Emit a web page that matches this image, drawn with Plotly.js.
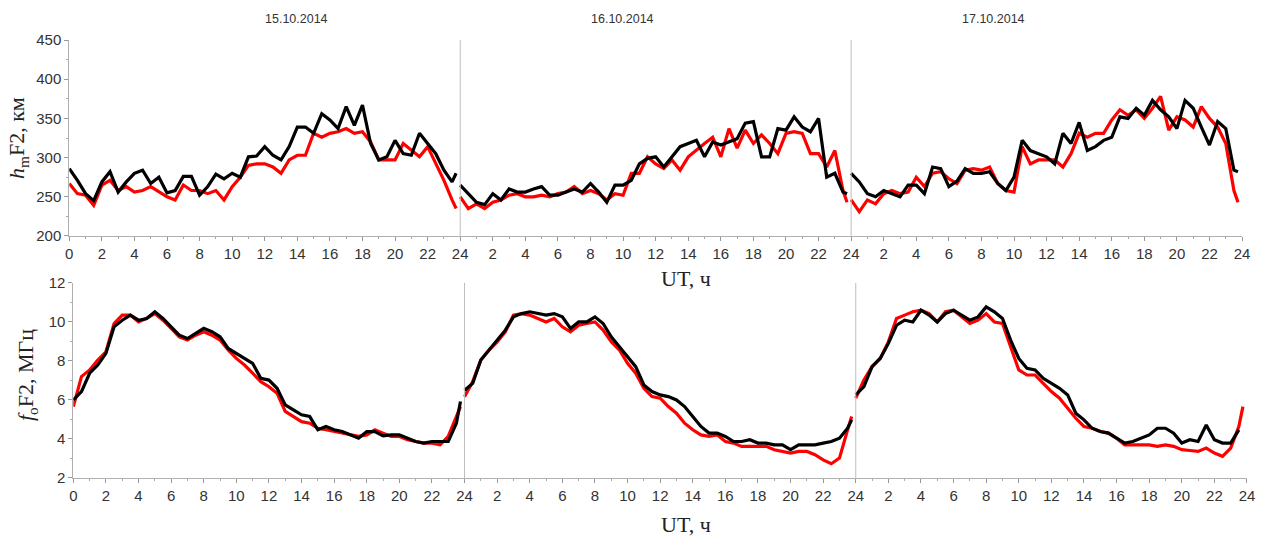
<!DOCTYPE html>
<html><head><meta charset="utf-8">
<script src="https://cdn.plot.ly/plotly-3.0.1.min.js"></script>
<style>html,body{margin:0;padding:0;background:#fff}</style>
</head><body>
<div id="chart" style="width:1262px;height:541px"></div>
<script>
// Hours of day for each sample (UT, h)
const HOURS = [0,0.5,1,1.5,2,2.5,3,3.5,4,4.5,5,5.5,6,6.5,7,7.5,8,8.5,9,9.5,10,10.5,11,11.5,12,12.5,13,13.5,14,14.5,15,15.5,16,16.5,17,17.5,18,18.5,19,19.5,20,20.5,21,21.5,22,22.5,23,23.5,23.75];
const DAYS = ['15.10.2014','16.10.2014','17.10.2014'];
const TICK_VALUES = [0,2,4,6,8,10,12,14,16,18,20,22,24,26,28,30,32,34,36,38,40,42,44,46,48,50,52,54,56,58,60,62,64,66,68,70,72];
const TICK_TEXT = ['0','2','4','6','8','10','12','14','16','18','20','22','24','2','4','6','8','10','12','14','16','18','20','22','24','2','4','6','8','10','12','14','16','18','20','22','24'];

// hmF2, km
const HM_BLACK_D1 = [286,271,254,245,269,282,256,269,280,284, 267,275,255,258,276,276,252,263,279,273, 280,275,301,302,314,303,297,314,339,339, 331,356,348,337,365,341,367,318,297,301, 322,305,303,331,318,305,284,269, 280];
const HM_RED_D1   = [267,254,252,239,265,271,258,263,256,258, 263,256,250,246,265,258,258,254,258,246, 263,275,290,292,292,288,280,297,303,303, 331,326,331,333,337,331,333,320,297,297, 297,318,309,301,314,292,271,246, 235];
const HM_BLACK_D2 = [265,254,243,240,254,246,260,256,256,260, 263,252,252,256,260,256,267,256,243,265, 265,271,292,299,301,288,301,314,318,322, 301,320,316,320,324,344,346,301,301,337, 335,352,339,333,350,275,280,256, 254];
const HM_RED_D2   = [250,235,241,235,243,246,252,254,250,250, 252,250,254,256,263,254,258,254,246,254, 252,280,280,301,292,286,297,284,301,310, 318,326,301,337,312,335,318,329,318,305, 331,333,331,305,305,288,309,258, 243];
const HM_BLACK_D3 = [280,269,254,250,258,254,250,265,265,254, 288,286,263,270,286,280,280,282,267,258, 275,322,309,305,301,292,331,318,345,309, 314,322,326,352,350,363,354,373,361,352, 337,373,363,339,316,346,337,284, 282];
const HM_RED_D3   = [246,231,246,241,254,258,254,256,275,263, 280,282,273,267,284,286,284,288,267,258, 256,314,292,297,297,297,288,305,331,326, 331,331,348,361,354,361,350,363,378,335, 352,348,339,365,350,339,318,258, 243];

// foF2, MHz
const FO_BLACK_D1 = [6.0,6.43,7.37,7.79,8.39,9.75,10.09,10.35,10.09,10.18, 10.52,10.18,9.75,9.32,9.15,9.41,9.67,9.5,9.24,8.64, 8.39,8.13,7.88,7.11,7.02,6.6,5.75,5.49,5.24,5.15, 4.47,4.64,4.47,4.38,4.21,4.04,4.38,4.38,4.16,4.21, 4.21,4.04,3.87,3.79,3.87,3.87,3.87,4.81, 5.92];
const FO_RED_D1   = [5.66,7.2,7.54,8.05,8.47,9.92,10.35,10.35,10.0,10.18, 10.43,10.09,9.67,9.24,9.07,9.32,9.5,9.32,9.07,8.56, 8.13,7.79,7.37,6.94,6.68,6.34,5.41,5.15,4.89,4.81, 4.55,4.47,4.38,4.3,4.21,4.13,4.21,4.47,4.3,4.13, 4.13,3.96,3.87,3.79,3.79,3.7,4.13,5.15, 5.66];
const FO_BLACK_D2 = [6.5,6.85,8.05,8.56,9.07,9.58,10.26,10.43,10.52,10.43, 10.35,10.43,10.26,9.67,10.0,10.0,10.26,9.92,9.24,8.73, 8.22,7.71,6.77,6.43,6.26,6.17,6.0,5.66,5.15,4.64, 4.3,4.3,4.13,3.87,3.87,3.96,3.79,3.79,3.7,3.7, 3.45,3.7,3.7,3.7,3.79,3.87,4.04,4.55, 4.98];
const FO_RED_D2   = [6.17,6.94,8.05,8.56,8.98,9.49,10.35,10.43,10.35,10.18, 10.0,10.18,9.75,9.49,9.83,9.92,10.0,9.58,8.98,8.56, 7.88,7.37,6.6,6.17,6.09,5.66,5.32,4.81,4.47,4.21, 4.13,4.21,3.87,3.79,3.62,3.62,3.62,3.62,3.45,3.36, 3.28,3.36,3.36,3.19,2.93,2.73,3.02,4.47, 5.15];
const FO_BLACK_D3 = [6.26,6.68,7.71,8.13,8.9,9.83,10.09,10.0,10.6,10.35, 10.0,10.43,10.6,10.35,10.09,10.26,10.77,10.52,10.18,9.07, 8.13,7.62,7.54,7.11,6.85,6.6,6.26,5.32,4.98,4.55, 4.38,4.3,4.04,3.79,3.87,4.04,4.21,4.55,4.55,4.3, 3.79,3.96,3.87,4.72,3.96,3.79,3.79,4.47, null];
const FO_RED_D3   = [6.09,7.02,7.71,8.13,8.98,10.18,10.35,10.52,10.6,10.43, 10.0,10.52,10.6,10.26,9.92,10.09,10.43,10.0,9.92,8.73, 7.54,7.28,7.28,6.85,6.43,6.09,5.58,5.06,4.64,4.55, 4.38,4.3,4.04,3.7,3.7,3.7,3.7,3.62,3.7,3.62, 3.45,3.41,3.36,3.53,3.28,3.11,3.53,4.64, 5.66];

const HM = [[HM_RED_D1,HM_BLACK_D1],[HM_RED_D2,HM_BLACK_D2],[HM_RED_D3,HM_BLACK_D3]];
const FO = [[FO_RED_D1,FO_BLACK_D1],[FO_RED_D2,FO_BLACK_D2],[FO_RED_D3,FO_BLACK_D3]];
const COLORS = ['#ff0000','#000000'];

const traces = [];
for (let d = 0; d < 3; d++) {
  const xs = HOURS.map(h => h + 24*d);
  for (let s = 0; s < 2; s++) {
    traces.push({x: xs, y: HM[d][s], xaxis:'x', yaxis:'y', type:'scatter', mode:'lines',
      line:{color:COLORS[s], width:3.2}, connectgaps:false, hoverinfo:'skip'});
    traces.push({x: xs, y: FO[d][s], xaxis:'x2', yaxis:'y2', type:'scatter', mode:'lines',
      line:{color:COLORS[s], width:3.2}, connectgaps:false, hoverinfo:'skip'});
  }
}

const tickFont = {family:'Liberation Sans, Arial, sans-serif', size:15, color:'#333'};
function xAxis(domain, anchor) {
  return {domain: domain, anchor: anchor, range:[0,72], tickmode:'array', tickvals:TICK_VALUES, ticktext:TICK_TEXT,
    ticks:'outside', ticklen:4, tickcolor:'#999', tickwidth:1, showline:true, linecolor:'#b0b0b0', linewidth:1,
    showgrid:false, zeroline:false, tickfont:tickFont, fixedrange:true,
    minor:{tickmode:'linear', tick0:0, dtick:1, ticks:'outside', ticklen:2, tickcolor:'#aaa', showgrid:false}};
}
function yAxis(domain, anchor, range, dtick, mdtick) {
  return {domain: domain, anchor: anchor, range: range, tickmode:'linear', tick0: range[0], dtick: dtick,
    ticks:'outside', ticklen:4, tickcolor:'#999', tickwidth:1, showline:true, linecolor:'#b0b0b0', linewidth:1,
    showgrid:false, zeroline:false, tickfont:tickFont, fixedrange:true,
    minor:{tickmode:'linear', tick0: range[0], dtick: mdtick, ticks:'outside', ticklen:2, tickcolor:'#aaa', showgrid:false}};
}

const shapes = [];
[24,48].forEach(v => {
  shapes.push({type:'line', xref:'x', yref:'y domain', x0:v, x1:v, y0:0, y1:1, line:{color:'#bdbdbd', width:1}});
  shapes.push({type:'line', xref:'x2', yref:'y2 domain', x0:v, x1:v, y0:0, y1:1, line:{color:'#bdbdbd', width:1}});
});

const serif = 'Liberation Serif, Times New Roman, serif';
const DAY_X = [0.2353, 0.4929, 0.7876];
const annotations = DAYS.map((t,i) => ({text:t, xref:'paper', yref:'paper', x:DAY_X[i], y:0.9649,
  showarrow:false, xanchor:'center', yanchor:'middle', font:{family:'Liberation Sans, Arial, sans-serif', size:12.5, color:'#333'}}));
annotations.push({text:'UT, ч', xref:'paper', yref:'paper', x:0.5436, y:0.4861, showarrow:false,
  xanchor:'center', yanchor:'middle', font:{family:serif, size:22, color:'#222'}});
annotations.push({text:'UT, ч', xref:'paper', yref:'paper', x:0.5436, y:0.004, showarrow:false,
  xanchor:'center', yanchor:'bottom', font:{family:serif, size:22, color:'#222'}});
annotations.push({text:'<i>h</i><sub>m</sub>F2, км', xref:'paper', yref:'paper', x:0.0143, y:0.7449, showarrow:false,
  textangle:-90, xanchor:'center', yanchor:'middle', font:{family:serif, size:22, color:'#222'}});
annotations.push({text:'<i>f</i><sub>o</sub>F2, МГц', xref:'paper', yref:'paper', x:0.0214, y:0.3068, showarrow:false,
  textangle:-90, xanchor:'center', yanchor:'middle', font:{family:serif, size:22, color:'#222'}});

const layout = {
  width:1262, height:541, margin:{l:0,r:0,t:0,b:0}, paper_bgcolor:'#fff', plot_bgcolor:'#fff', showlegend:false,
  xaxis: xAxis([0.0549,0.9842],'y'),
  yaxis: yAxis([0.5638,0.926],'x',[200,450],50,25),
  xaxis2: xAxis([0.0581,0.9881],'y2'),
  yaxis2: yAxis([0.1165,0.477],'x2',[2,12],2,1),
  shapes: shapes, annotations: annotations
};
Plotly.newPlot('chart', traces, layout, {staticPlot:true, displayModeBar:false});
</script>
</body></html>
